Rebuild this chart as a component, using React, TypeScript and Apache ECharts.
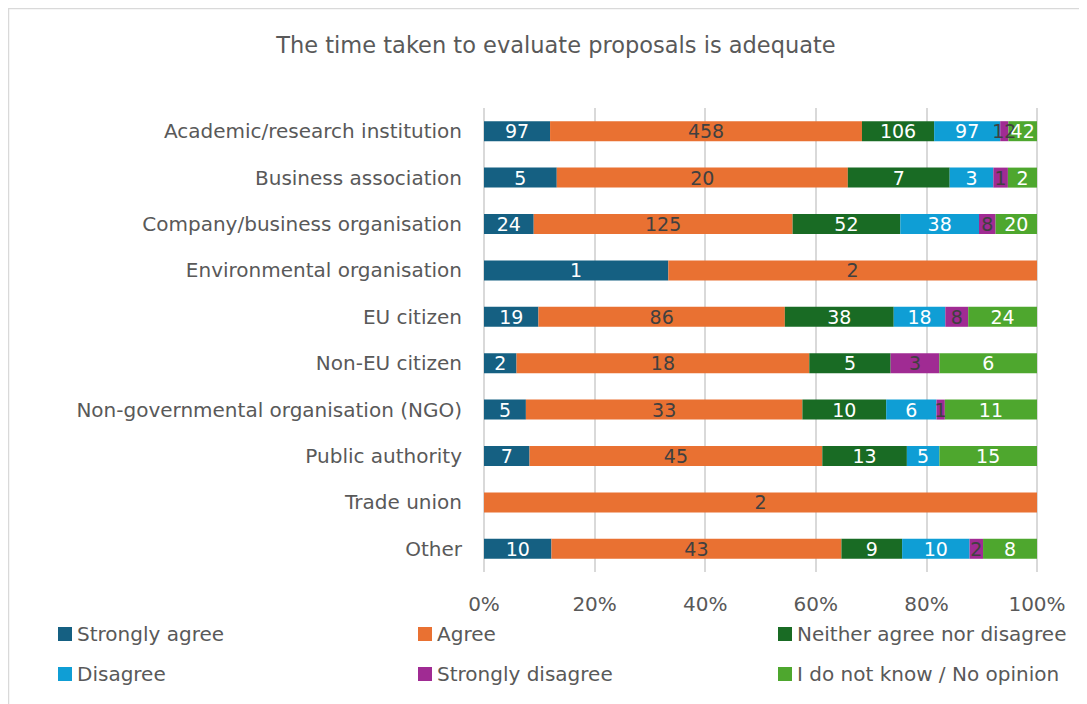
import React, { useEffect, useRef } from "react";
import * as echarts from "echarts";

const categories = [
  "Academic/research institution",
  "Business association",
  "Company/business organisation",
  "Environmental organisation",
  "EU citizen",
  "Non-EU citizen",
  "Non-governmental organisation (NGO)",
  "Public authority",
  "Trade union",
  "Other",
];

const seriesNames = [
  "Strongly agree",
  "Agree",
  "Neither agree nor disagree",
  "Disagree",
  "Strongly disagree",
  "I do not know / No opinion",
];

const stronglyAgree = [97, 5, 24, 1, 19, 2, 5, 7, 0, 10];
const agree = [458, 20, 125, 2, 86, 18, 33, 45, 2, 43];
const neither = [106, 7, 52, 0, 38, 5, 10, 13, 0, 9];
const disagree = [97, 3, 38, 0, 18, 0, 6, 5, 0, 10];
const stronglyDisagree = [12, 1, 8, 0, 8, 3, 1, 0, 0, 2];
const noOpinion = [42, 2, 20, 0, 24, 6, 11, 15, 0, 8];

const xTicks = ["0%", "20%", "40%", "60%", "80%", "100%"];

const colors = ["#156082", "#E97132", "#196B24", "#0F9ED5", "#A02B93", "#4EA72E"];
const labelColors = ["#ffffff", "#404040", "#ffffff", "#ffffff", "#404040", "#ffffff"];

const FONT = "'DejaVu Sans', sans-serif";

export default function App() {
  const ref = useRef<HTMLDivElement>(null);
  useEffect(() => {
    if (!ref.current) return;
    const chart = echarts.init(ref.current, undefined, { renderer: "svg" });
    const all = [stronglyAgree, agree, neither, disagree, stronglyDisagree, noOpinion];
    const totals = categories.map((_, i) => all.reduce((s, a) => s + a[i], 0));
    const series = all.map((arr, k) => ({
      name: seriesNames[k],
      type: "bar",
      stack: "total",
      barWidth: 20,
      itemStyle: { color: colors[k] },
      label: {
        show: true,
        position: "inside",
        color: labelColors[k],
        fontSize: 19,
        fontFamily: FONT,
        formatter: (p: any) => (arr[p.dataIndex] ? String(arr[p.dataIndex]) : ""),
      },
      data: arr.map((v, i) => (v / totals[i]) * 100),
    }));
    const legendPos = [
      { left: 50, top: 616 },
      { left: 410, top: 616 },
      { left: 770, top: 616 },
      { left: 50, top: 656 },
      { left: 410, top: 656 },
      { left: 770, top: 656 },
    ];
    chart.setOption({
      animation: false,
      title: {
        text: "The time taken to evaluate proposals is adequate",
        left: 543,
        textAlign: "center",
        top: 20,
        textStyle: { color: "#595959", fontSize: 22.5, fontWeight: "normal", fontFamily: FONT },
      },
      legend: seriesNames.map((n, k) => ({
        data: [n],
        left: legendPos[k].left,
        top: legendPos[k].top,
        padding: 0,
        icon: "rect",
        itemWidth: 14,
        itemHeight: 14,
        itemGap: 6,
        textStyle: { color: "#595959", fontSize: 20, fontFamily: FONT },
        selectedMode: false,
      })),
      grid: { left: 476, right: 50, top: 100, height: 464, containLabel: false },
      xAxis: {
        type: "value",
        min: 0,
        max: 100,
        interval: 20,
        axisLabel: {
          color: "#595959",
          fontSize: 20,
          fontFamily: FONT,
          margin: 22,
          formatter: (v: number) => xTicks[Math.round(v / 20)],
        },
        splitLine: { lineStyle: { color: "#d9d9d9", width: 2 } },
        axisLine: { show: false },
        axisTick: { show: false },
      },
      yAxis: {
        type: "category",
        data: categories,
        inverse: true,
        axisLabel: { color: "#595959", fontSize: 20, fontFamily: FONT, margin: 22 },
        axisLine: { show: false },
        axisTick: { show: false },
      },
      graphic: [
        { type: "line", shape: { x1: 0.5, y1: 0, x2: 0.5, y2: 700 }, style: { stroke: "#d9d9d9", lineWidth: 1.5 } },
        { type: "line", shape: { x1: 0, y1: 0.5, x2: 1100, y2: 0.5 }, style: { stroke: "#d9d9d9", lineWidth: 1.5 } },
      ],
      series,
    });
    return () => chart.dispose();
  }, []);
  return <div ref={ref} style={{ width: 1079, height: 696 }} />;
}
